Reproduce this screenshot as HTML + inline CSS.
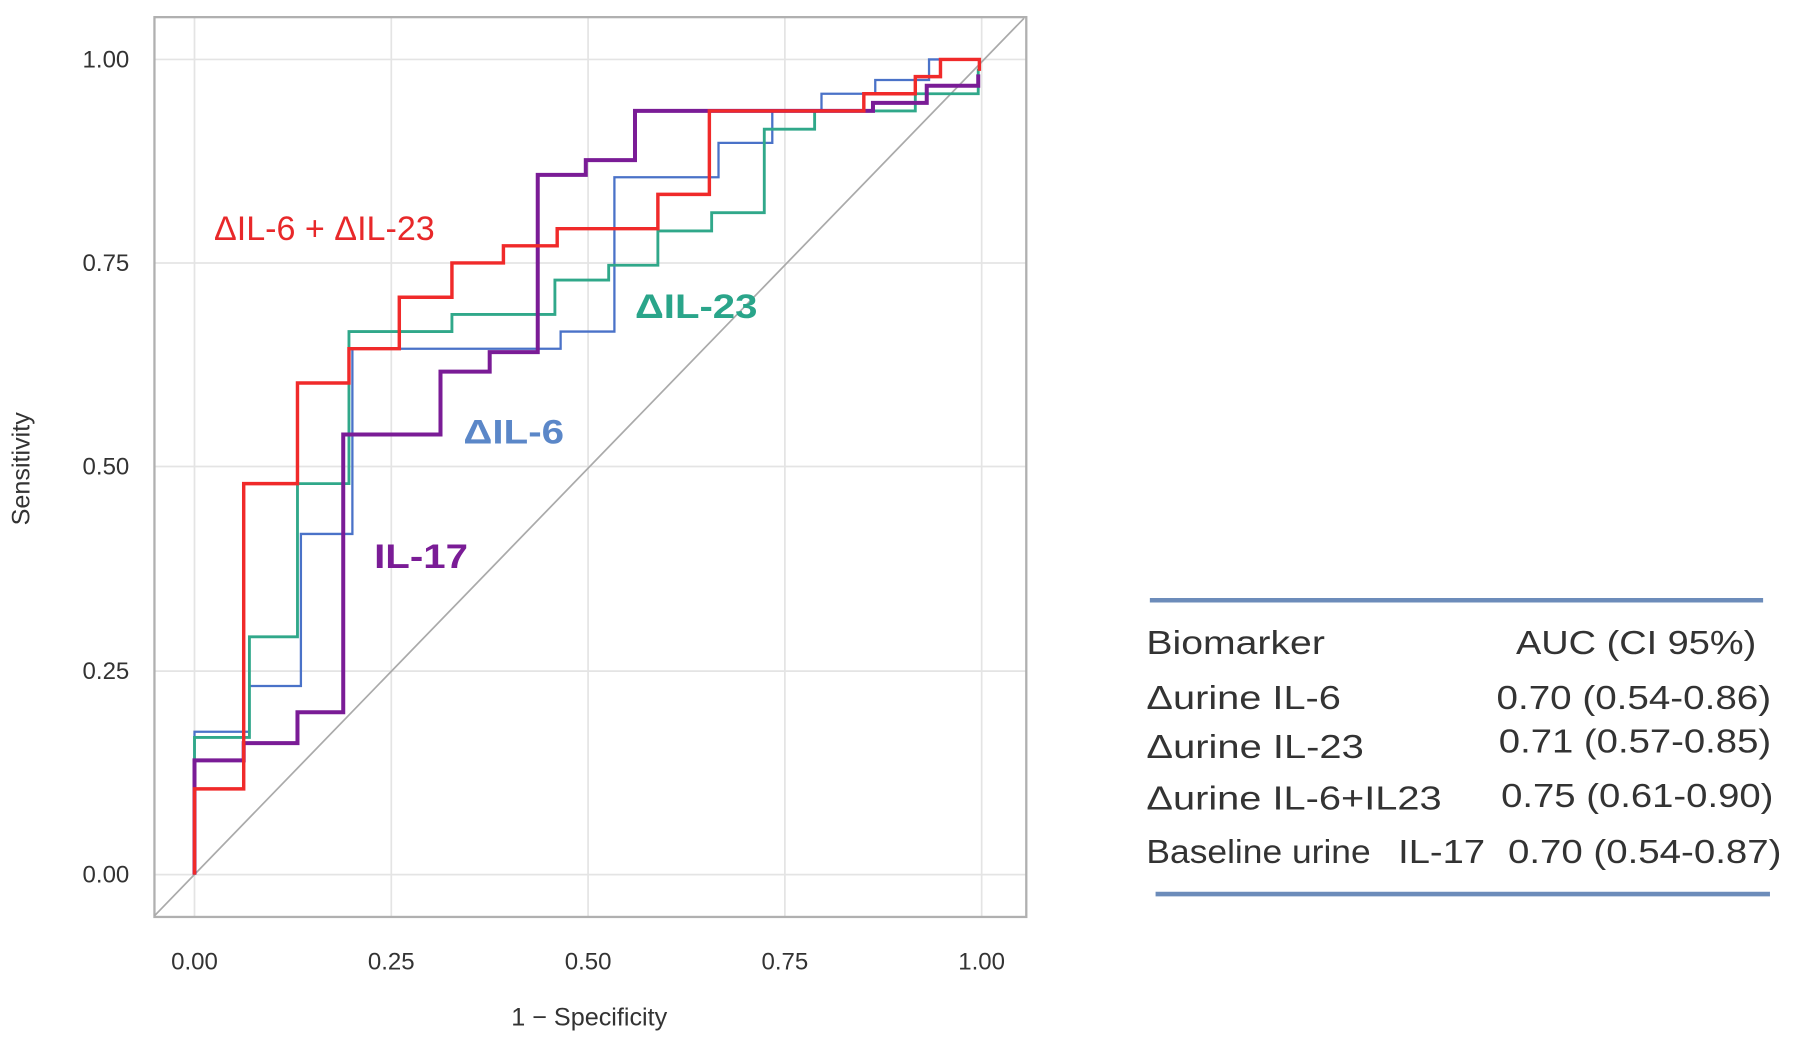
<!DOCTYPE html>
<html><head><meta charset="utf-8"><style>
html,body{margin:0;padding:0;background:#fff;}
svg{display:block;}
text{font-family:"Liberation Sans",sans-serif;}
</style></head><body>
<svg width="1794" height="1037" viewBox="0 0 1568 907" preserveAspectRatio="none" xmlns="http://www.w3.org/2000/svg">
<rect width="1568" height="907" fill="#fff"/>
<g stroke="#e4e4e4" stroke-width="1.5">
<line x1="135" y1="52" x2="897" y2="52"/><line x1="135" y1="230" x2="897" y2="230"/>
<line x1="135" y1="408" x2="897" y2="408"/><line x1="135" y1="587" x2="897" y2="587"/>
<line x1="135" y1="765" x2="897" y2="765"/>
<line x1="170" y1="15" x2="170" y2="802"/><line x1="342" y1="15" x2="342" y2="802"/>
<line x1="514" y1="15" x2="514" y2="802"/><line x1="686" y1="15" x2="686" y2="802"/>
<line x1="858" y1="15" x2="858" y2="802"/>
</g>
<rect x="135" y="15" width="762" height="787" fill="none" stroke="#b0b0b0" stroke-width="2"/>
<line x1="135" y1="801" x2="895" y2="16" stroke="#aaa" stroke-width="1.5"/>
<g fill="none" stroke-linejoin="miter">
<path d="M170,765 V640 H218 V600 H263 V467 H308 V305 H490 V290 H537 V155 H628 V125 H675 V97 H718 V82 H765 V70 H812 V52 H856" stroke="#4a72c8" stroke-width="2"/>
<path d="M170,765 V645 H218 V557 H260 V423 H305 V290 H395 V275 H485 V245 H532 V232 H575 V202 H622 V186 H668 V113 H712 V97 H800 V82 H855 V60" stroke="#30a88a" stroke-width="2.5"/>
<path d="M170,765 V665 H213 V650 H260 V623 H300 V380 H385 V325 H428 V308 H470 V153 H512 V140 H555 V97 H650 V97 H763 V90 H810 V75 H855 V65" stroke="#7a1c96" stroke-width="3.5"/>
<path d="M170,765 V690 H213 V423 H260 V335 H305 V305 H349 V260 H395 V230 H440 V215 H487 V200 H575 V170 H620 V97 H755 V82 H800 V67 H822 V52 H856 V62" stroke="#f02a2a" stroke-width="3"/>
</g>
<g font-size="21" fill="#333" text-anchor="end">
<text x="113" y="59">1.00</text><text x="113" y="237">0.75</text><text x="113" y="415">0.50</text>
<text x="113" y="594">0.25</text><text x="113" y="772">0.00</text>
</g>
<g font-size="21" fill="#333" text-anchor="middle">
<text x="170" y="848">0.00</text><text x="342" y="848">0.25</text><text x="514" y="848">0.50</text>
<text x="686" y="848">0.75</text><text x="858" y="848">1.00</text>
<text x="515" y="897" font-size="22">1 − Specificity</text>
<text transform="translate(26,410) rotate(-90)" font-size="22">Sensitivity</text>
</g>
<text x="187" y="210" font-size="30" fill="#e8282a" textLength="193" lengthAdjust="spacingAndGlyphs">ΔIL-6 + ΔIL-23</text>
<text x="555" y="278" font-size="30" font-weight="bold" fill="#2aa58a" textLength="107" lengthAdjust="spacingAndGlyphs">ΔIL-23</text>
<text x="405" y="388" font-size="30" font-weight="bold" fill="#5b87c8" textLength="88" lengthAdjust="spacingAndGlyphs">ΔIL-6</text>
<text x="327" y="497" font-size="30" font-weight="bold" fill="#7a1c96" textLength="82" lengthAdjust="spacingAndGlyphs">IL-17</text>
<line x1="1005" y1="525" x2="1541" y2="525" stroke="#6c8cba" stroke-width="4"/>
<line x1="1010" y1="782" x2="1547" y2="782" stroke="#6c8cba" stroke-width="4"/>
<g font-size="29" fill="#333" lengthAdjust="spacingAndGlyphs">
<text x="1002" y="572" textLength="156" lengthAdjust="spacingAndGlyphs">Biomarker</text><text x="1325" y="572" textLength="210" lengthAdjust="spacingAndGlyphs">AUC (CI 95%)</text>
<text x="1002" y="620" textLength="170" lengthAdjust="spacingAndGlyphs">Δurine IL-6</text><text x="1308" y="620" textLength="240" lengthAdjust="spacingAndGlyphs">0.70 (0.54-0.86)</text>
<text x="1002" y="663" textLength="190" lengthAdjust="spacingAndGlyphs">Δurine IL-23</text><text x="1310" y="658" textLength="238" lengthAdjust="spacingAndGlyphs">0.71 (0.57-0.85)</text>
<text x="1002" y="708" textLength="258" lengthAdjust="spacingAndGlyphs">Δurine IL-6+IL23</text><text x="1312" y="706" textLength="238" lengthAdjust="spacingAndGlyphs">0.75 (0.61-0.90)</text>
<text x="1002" y="755" textLength="196" lengthAdjust="spacingAndGlyphs">Baseline urine</text><text x="1222" y="755" textLength="76" lengthAdjust="spacingAndGlyphs">IL-17</text><text x="1318" y="755" textLength="239" lengthAdjust="spacingAndGlyphs">0.70 (0.54-0.87)</text>
</g>
</svg>
</body></html>
